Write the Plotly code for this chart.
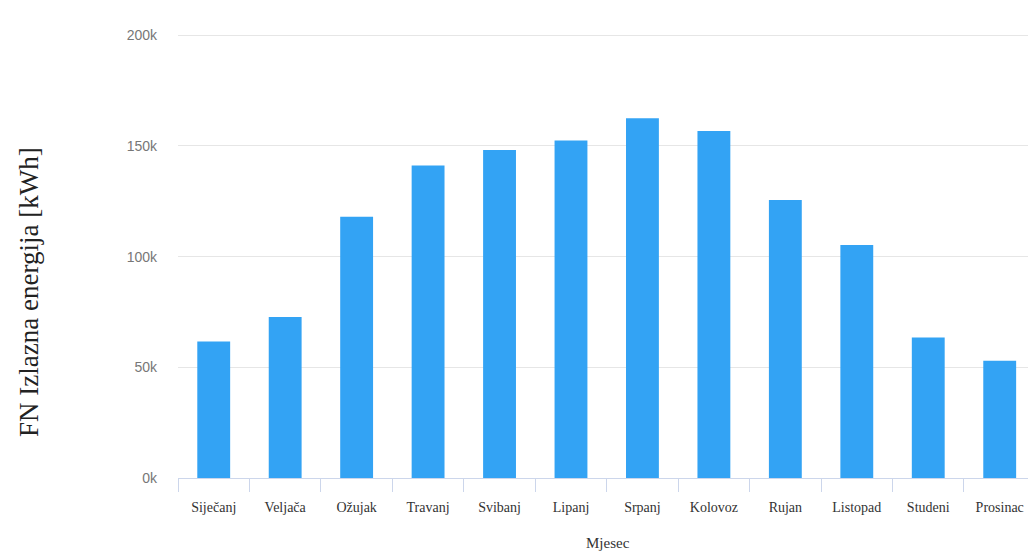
import plotly.graph_objects as go

# Monthly PV output (kWh)
months = ['Siječanj', 'Veljača', 'Ožujak', 'Travanj', 'Svibanj', 'Lipanj',
          'Srpanj', 'Kolovoz', 'Rujan', 'Listopad', 'Studeni', 'Prosinac']
energy_kwh = [61600, 72700, 118000, 141100, 148100, 152400,
              162500, 156700, 125600, 105200, 63500, 53000]

y_ticks = [0, 50000, 100000, 150000, 200000]
y_tick_labels = ['0k', '50k', '100k', '150k', '200k']

SERIF = 'Liberation Serif, Times New Roman, serif'

fig = go.Figure()

fig.add_trace(go.Bar(
    x=months,
    y=energy_kwh,
    marker=dict(color='#33a3f4', line=dict(width=0)),
    name='FN Izlazna energija',
))

fig.update_layout(
    width=1028,
    height=554,
    paper_bgcolor='white',
    plot_bgcolor='white',
    margin=dict(l=178, r=0, t=33, b=76),
    bargap=0.54,
    showlegend=False,
)

# category axis cropped on the right like the reference image
fig.update_xaxes(
    range=[-0.5, 11.396],
    showgrid=False,
    showline=True,
    linecolor='#ccd6eb',
    linewidth=1,
    ticks='outside',
    tickson='boundaries',
    ticklen=13,
    tickcolor='#ccd6eb',
    ticklabelstandoff=16,
    tickfont=dict(family=SERIF, size=14, color='#333333'),
    zeroline=False,
)

# top slightly above 200k so the 200k gridline is drawn
fig.update_yaxes(
    range=[0, 201000],
    tickvals=y_ticks,
    ticktext=y_tick_labels,
    showgrid=True,
    gridcolor='#e6e6e6',
    gridwidth=1,
    zeroline=False,
    showline=False,
    ticks='',
    ticklabelstandoff=20,
    tickfont=dict(family='Liberation Sans, Arial, sans-serif', size=14, color='#777777'),
)

# axis titles
fig.add_annotation(
    text='FN Izlazna energija [kWh]',
    xref='paper', yref='paper',
    x=(29 - 178) / 850, y=(480 - 294) / 445,
    xanchor='center', yanchor='middle',
    textangle=-90,
    showarrow=False,
    font=dict(family=SERIF, size=27, color='#222222'),
)
fig.add_annotation(
    text='Mjesec',
    xref='paper', yref='paper',
    x=(608 - 178) / 850, y=(478 - 543) / 445,
    xanchor='center', yanchor='middle',
    showarrow=False,
    font=dict(family=SERIF, size=15, color='#333333'),
)

# drop the default body margin so the figure fills the window exactly
fig.write_html("out.html", config={'displayModeBar': False},
               post_script="document.body.style.margin='0';")
